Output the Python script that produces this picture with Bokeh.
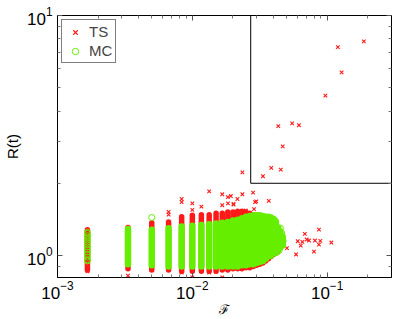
from bokeh.plotting import figure
from bokeh.models import Range1d, FixedTicker, LogAxis, CustomJSTickFormatter, Legend, LegendItem, ColumnDataSource
from bokeh.embed import file_html
from bokeh.resources import INLINE

# ---- data ----
# discrete F values of the stripes
STRIPE_F = [0.001667, 0.003333, 0.005, 0.006667, 0.008333, 0.01, 0.01167, 0.01333,
            0.015, 0.01667, 0.01833, 0.02, 0.02167, 0.02333, 0.025, 0.02667, 0.02833,
            0.03, 0.03167, 0.03333, 0.035, 0.03667, 0.03833, 0.04, 0.04167, 0.04333,
            0.045, 0.04667]
# dense TS (red) extent per stripe
TS_LO = [0.87, 0.88, 0.87, 0.87, 0.86, 0.86, 0.86, 0.86, 0.86, 0.87, 0.87, 0.88, 0.88, 0.88,
         0.89, 0.89, 0.90, 0.91, 0.92, 0.93, 0.95, 0.97, 0.99, 1.01, 1.03, 1.05, 1.08, 1.10]
TS_HI = [1.28, 1.31, 1.37, 1.38, 1.45, 1.47, 1.48, 1.48, 1.50, 1.50, 1.52, 1.52, 1.53, 1.53,
         1.52, 1.50, 1.48, 1.47, 1.46, 1.44, 1.42, 1.40, 1.38, 1.36, 1.33, 1.28, 1.24, 1.19]
# dense MC (green) extent per stripe (stripe 1 is sparse, given as points)
MC_F = STRIPE_F[1:]
MC_LO = [0.92, 0.91, 0.90, 0.90, 0.90, 0.90, 0.90, 0.90, 0.90, 0.90, 0.90, 0.90, 0.91,
         0.91, 0.92, 0.92, 0.93, 0.94, 0.95, 0.97, 0.99, 1.00, 1.02, 1.04, 1.06, 1.08, 1.10]
MC_HI = [1.29, 1.28, 1.30, 1.32, 1.33, 1.34, 1.35, 1.36, 1.37, 1.38, 1.40, 1.41, 1.43,
         1.45, 1.46, 1.47, 1.47, 1.47, 1.46, 1.45, 1.45, 1.44, 1.42, 1.38, 1.31, 1.26, 1.20]

# individual TS points
TS_X = [0.187, 0.12, 0.128, 0.097, 0.0434, 0.055, 0.0617, 0.0468, 0.0385, 0.0453, 0.0334, 0.0235,
        0.01333, 0.01667, 0.0193, 0.0235, 0.0282, 0.0369, 0.01837, 0.0202, 0.0216, 0.0249,
        0.0292, 0.0298, 0.0287, 0.008333, 0.008333, 0.01, 0.01, 0.01167, 0.01667, 0.01833,
        0.0202, 0.006667, 0.006667,
        0.0683, 0.0869, 0.0605, 0.0637, 0.0705, 0.0733, 0.0812, 0.089, 0.1074, 0.0798,
        0.0588, 0.0503, 0.0869, 0.0655,
        0.001667, 0.003333, 0.003333, 0.005, 0.006667, 0.008333, 0.01, 0.01333, 0.015,
        0.01667, 0.01833, 0.02, 0.03, 0.0333, 0.0367,
        0.001667, 0.001667, 0.001667, 0.001667]
TS_Y = [7.8, 7.38, 5.79, 4.64, 3.46, 3.55, 3.49, 2.85, 2.32, 2.28, 2.14, 2.22,
        1.85, 1.80, 1.77, 1.80, 1.83, 1.69, 1.65, 1.63, 1.72, 1.54,
        1.67, 1.68, 1.56, 1.72, 1.67, 1.65, 1.55, 1.60, 1.62, 1.75,
        1.64, 1.52, 1.48,
        1.23, 1.283, 1.147, 1.10, 1.166, 1.155, 1.155, 1.15, 1.133, 1.039,
        1.01, 1.073, 1.11, 1.14,
        0.86, 0.825, 0.88, 0.87, 0.875, 0.85, 0.81, 0.85, 0.858,
        0.81, 0.894, 0.88, 0.935, 0.95, 0.97,
        1.02, 1.10, 1.18, 0.98]

# individual MC points
MC_X = [0.001667, 0.001667, 0.001667, 0.001667, 0.001667, 0.001667, 0.001667, 0.001667,
        0.001667, 0.001667, 0.001667, 0.001667, 0.001667, 0.001667,
        0.005, 0.0472, 0.0468, 0.046, 0.044, 0.0425, 0.045, 0.0465, 0.041]
MC_Y = [0.96, 0.985, 1.01, 1.035, 1.06, 1.085, 1.11, 1.135, 1.16, 1.185, 1.21, 1.235,
        1.25, 0.95,
        1.44, 1.15, 1.11, 1.24, 1.05, 1.03, 1.30, 1.19, 1.40]

# dividing lines of the corner region
BOX_F = 0.0271
BOX_R = 2.0

X_MAJOR = [0.001, 0.01, 0.1]
X_MINOR = [0.002, 0.003, 0.004, 0.005, 0.006, 0.007, 0.008, 0.009,
           0.02, 0.03, 0.04, 0.05, 0.06, 0.07, 0.08, 0.09, 0.2, 0.3]
Y_MAJOR = [1, 10]
Y_MINOR = [0.9, 2, 3, 4, 5, 6, 7, 8, 9]

RED = "#ff1a1a"
GREEN = "#66ee00"
FONT = "Liberation Sans"

p = figure(width=396, height=319, x_axis_type="log", y_axis_type="log",
           x_range=Range1d(0.001, 0.30), y_range=Range1d(0.81, 10),
           output_backend="svg", toolbar_location=None,
           min_border_left=53, min_border_right=5, min_border_top=15, min_border_bottom=42)
p.grid.visible = False
p.outline_line_color = "black"
p.outline_line_width = 1
p.background_fill_color = "white"
p.border_fill_color = "white"

ts_core = ColumnDataSource(dict(x=STRIPE_F, lo=TS_LO, hi=TS_HI))
mc_core = ColumnDataSource(dict(x=MC_F, lo=MC_LO, hi=MC_HI))

p.segment(x0="x", y0="lo", x1="x", y1="hi", source=ts_core, line_color=RED,
          line_width=5.5, line_cap="round")
ts = p.scatter(TS_X, TS_Y, marker="x", size=5, line_color=RED, line_width=1.1)
p.segment(x0="x", y0="lo", x1="x", y1="hi", source=mc_core, line_color=GREEN,
          line_width=6.5, line_cap="round")
mc = p.scatter(MC_X, MC_Y, marker="circle", size=6, line_color=GREEN,
               fill_color=None, line_width=1)

# corner region lines (drawn from the data)
p.segment(x0=[BOX_F, BOX_F], y0=[BOX_R, BOX_R], x1=[BOX_F, 0.30], y1=[10, BOX_R],
          line_color="black", line_width=1)

legend = Legend(items=[LegendItem(label="TS", renderers=[ts]),
                       LegendItem(label="MC", renderers=[mc])],
                location="top_left")
legend.label_text_font = FONT
legend.label_text_font_size = "15px"
legend.border_line_color = "black"
legend.border_line_width = 1
legend.background_fill_alpha = 1
legend.margin = 4
legend.padding = 3
legend.spacing = 2
legend.label_height = 16
legend.glyph_height = 16
legend.glyph_width = 20
legend.label_standoff = 4
p.add_layout(legend)

for ax in [p.xaxis[0], p.yaxis[0]]:
    ax.major_label_text_font = FONT
    ax.major_label_text_font_size = "17px"
    ax.major_label_text_color = "black"
    ax.axis_line_color = "black"
    ax.major_tick_in = 5
    ax.major_tick_out = 0
    ax.minor_tick_in = 3
    ax.minor_tick_out = 0
    ax.major_tick_line_color = "#555555"
    ax.minor_tick_line_color = "#777777"
    ax.axis_label_text_font_style = "normal"
    ax.axis_label_text_color = "black"

p.xaxis[0].ticker = FixedTicker(ticks=X_MAJOR, minor_ticks=X_MINOR)
p.yaxis[0].ticker = FixedTicker(ticks=Y_MAJOR, minor_ticks=Y_MINOR)
p.xaxis[0].axis_label = "ℱ"
p.xaxis[0].axis_label_text_font = "DejaVu Serif"
p.xaxis[0].axis_label_text_font_size = "13px"
p.xaxis[0].axis_label_standoff = 0
p.xaxis[0].major_label_standoff = 3
p.yaxis[0].axis_label = "R(t)"
p.yaxis[0].axis_label_text_font = FONT
p.yaxis[0].axis_label_text_font_size = "15px"
p.yaxis[0].axis_label_standoff = 3
p.yaxis[0].major_label_standoff = 5

blank = CustomJSTickFormatter(code="return ''")
top = LogAxis(ticker=FixedTicker(ticks=X_MAJOR, minor_ticks=X_MINOR), formatter=blank)
right = LogAxis(ticker=FixedTicker(ticks=Y_MAJOR, minor_ticks=Y_MINOR), formatter=blank)
for ax in [top, right]:
    ax.axis_line_color = "black"
    ax.major_tick_in = 5
    ax.major_tick_out = 0
    ax.minor_tick_in = 3
    ax.minor_tick_out = 0
    ax.major_tick_line_color = "#555555"
    ax.minor_tick_line_color = "#777777"
    ax.major_label_standoff = 0
    ax.major_label_text_font_size = "1px"
p.add_layout(top, "above")
p.add_layout(right, "right")

open("out.html", "w").write(file_html(p, INLINE))
